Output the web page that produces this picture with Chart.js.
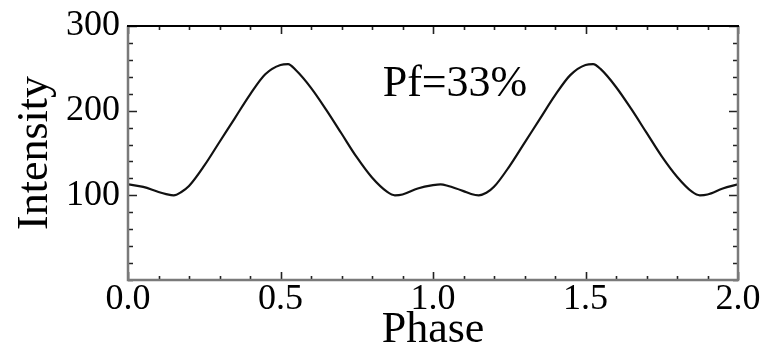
<!DOCTYPE html>
<html>
<head>
<meta charset="utf-8">
<script src="https://cdn.jsdelivr.net/npm/chart.js@4.4.1/dist/chart.umd.min.js"></script>
<style>
  html, body { margin: 0; padding: 0; background: #fff; }
  #wrap { width: 776px; height: 348px; position: relative; }
</style>
</head>
<body>
<div id="wrap"><canvas id="c"></canvas></div>
<script>
// ---- data ----
const phase = [0, 0.05, 0.1, 0.125, 0.15, 0.175, 0.2, 0.25, 0.3, 0.35, 0.4, 0.45, 0.5, 0.525, 0.55, 0.6, 0.65, 0.7, 0.75, 0.8, 0.85, 0.875, 0.9, 0.95, 1.0, 1.025, 1.05, 1.1, 1.125, 1.15, 1.175, 1.2, 1.25, 1.3, 1.35, 1.4, 1.45, 1.5, 1.525, 1.55, 1.6, 1.65, 1.7, 1.75, 1.8, 1.85, 1.875, 1.9, 1.95, 2.0];
const intensity = [113, 110, 104, 101.5, 100, 104, 111, 135, 163, 191, 219, 243, 254, 255, 248, 227, 201, 173, 145, 121, 104, 100, 101, 108, 112, 113, 111, 105, 101.5, 100, 103, 110, 134, 162, 190, 218, 242, 254, 255, 249, 228, 202, 174, 146, 122, 104, 100, 101, 108, 113];
const xTickLabels = ['0.0', '0.5', '1.0', '1.5', '2.0'];
const yTickLabels = ['100', '200', '300'];
const xTitle = 'Phase';
const yTitle = 'Intensity';
const noteText = 'Pf=33%';
const notePos = { x: 1.072, y: 231 };

Chart.defaults.font.family = "'Liberation Serif', 'Times New Roman', serif";
Chart.defaults.color = '#000';

function matchLabel(list, v) {
  const s = list.find(l => Math.abs(parseFloat(l) - v) < 1e-6);
  return s === undefined ? '' : s;
}

const framePlugin = {
  id: 'frame',
  afterDraw(chart) {
    const { ctx, chartArea: { left, right, top, bottom }, scales: { x, y } } = chart;
    ctx.save();
    ctx.lineCap = 'butt';
    // inward tick marks
    ctx.strokeStyle = '#222';
    ctx.lineWidth = 1.6;
    x.ticks.forEach(t => {
      const px = Math.round(x.getPixelForValue(t.value)) + 0.5;
      const major = matchLabel(xTickLabels, t.value) !== '';
      const len = major ? 8 : 4;
      ctx.beginPath();
      ctx.moveTo(px, bottom); ctx.lineTo(px, bottom - len);
      ctx.moveTo(px, top); ctx.lineTo(px, top + len);
      ctx.stroke();
    });
    y.ticks.forEach(t => {
      const py = Math.round(y.getPixelForValue(t.value)) + 0.5;
      const major = matchLabel(yTickLabels, t.value) !== '';
      const len = major ? 9 : 5;
      ctx.beginPath();
      ctx.moveTo(left, py); ctx.lineTo(left + len, py);
      ctx.moveTo(right, py); ctx.lineTo(right - len, py);
      ctx.stroke();
    });
    // frame
    ctx.strokeStyle = '#7a7a7a';
    ctx.lineWidth = 2.5;
    ctx.beginPath();
    ctx.moveTo(left, top); ctx.lineTo(left, bottom); ctx.lineTo(right, bottom); ctx.lineTo(right, top);
    ctx.stroke();
    ctx.strokeStyle = '#000';
    ctx.lineWidth = 2;
    ctx.beginPath();
    ctx.moveTo(left - 1, top); ctx.lineTo(right + 1, top);
    ctx.stroke();
    // annotation
    ctx.fillStyle = '#000';
    ctx.font = "44px 'Liberation Serif'";
    ctx.textAlign = 'center';
    ctx.textBaseline = 'middle';
    ctx.fillText(noteText, x.getPixelForValue(notePos.x), y.getPixelForValue(notePos.y));
    ctx.restore();
  }
};

new Chart(document.getElementById('c'), {
  type: 'line',
  data: {
    datasets: [{
      data: phase.map((p, i) => ({ x: p, y: intensity[i] })),
      borderColor: '#111',
      borderWidth: 2.2,
      pointRadius: 0,
      fill: false,
      cubicInterpolationMode: 'monotone'
    }]
  },
  options: {
    responsive: true,
    maintainAspectRatio: false,
    animation: false,
    devicePixelRatio: 1,
    layout: { padding: { left: 0, top: 20, right: 38, bottom: 0 } },
    plugins: { legend: { display: false }, tooltip: { enabled: false } },
    scales: {
      x: {
        type: 'linear', min: 0, max: 2,
        grid: { display: false, drawTicks: false },
        border: { display: false },
        ticks: {
          stepSize: 0.1, autoSkip: false, maxRotation: 0, minRotation: 0,
          padding: 2,
          font: { size: 36, lineHeight: 1 },
          callback: v => matchLabel(xTickLabels, v)
        },
        title: { display: true, text: xTitle, font: { size: 44, lineHeight: 1 }, padding: { top: 0, bottom: -4 } },
        afterFit(scale) { scale.height = 68; }
      },
      y: {
        type: 'linear', min: 0, max: 300,
        grid: { display: false, drawTicks: false },
        border: { display: false },
        ticks: {
          stepSize: 20, autoSkip: false,
          padding: 8,
          font: { size: 36, lineHeight: 1 },
          callback: v => matchLabel(yTickLabels, v)
        },
        title: { display: true, text: yTitle, font: { size: 44, lineHeight: 1 }, padding: { top: 13, bottom: 0 } },
        afterFit(scale) { scale.width = 128; }
      }
    }
  },
  plugins: [framePlugin]
});
</script>
</body>
</html>
